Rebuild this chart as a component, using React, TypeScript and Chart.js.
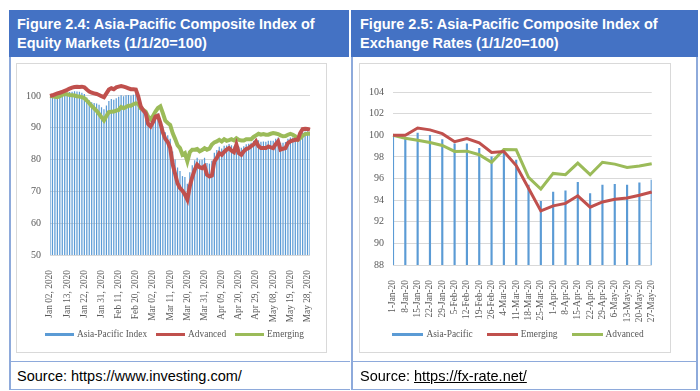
import React, { useEffect, useRef } from "react";
import { Chart, registerables } from "chart.js";

Chart.register(...registerables);

// ---------- Figure 2.4 data (trading days, Jan 02 – May 29, 2020) ----------
const MONTH_NAMES = ["Jan", "Feb", "Mar", "Apr", "May", "Jun"];
function tradingDayLabels(): string[] {
  const out: string[] = [];
  const d = new Date(Date.UTC(2020, 0, 2));
  const end = Date.UTC(2020, 4, 29);
  while (d.getTime() <= end) {
    const wd = d.getUTCDay();
    if (wd !== 0 && wd !== 6) {
      const day = String(d.getUTCDate()).padStart(2, "0");
      out.push(`${MONTH_NAMES[d.getUTCMonth()]} ${day}, 2020`);
    }
    d.setUTCDate(d.getUTCDate() + 1);
  }
  return out;
}
const eqDates = tradingDayLabels();
const EQ_LABEL_EVERY = 7;

const eqSeriesNames = ["Asia-Pacific Index", "Advanced", "Emerging"];
const eqAsiaPacific = [
  100, 99.8, 99.9, 100.0, 100.4, 100.6, 100.9, 101.0, 101.2, 101.3,
  101.5, 101.4, 101.3, 101.0, 100.6, 99.5, 98.6, 98.0, 97.8, 97.6,
  97.2, 96.4, 95.8, 97.0, 98.4, 99.0, 98.8, 99.3, 99.7, 100.2,
  99.9, 100.2, 100.3, 100.1, 100.4, 100.6, 99.2, 96.5, 95.5, 94.8,
  92.2, 91.2, 92.9, 94.1, 94.5, 93.0, 90.5, 88.6, 87.6, 86.5,
  82.5, 80.0, 77.5, 76.4, 74.8, 74.5, 72.4, 76.0, 78.2, 79.8,
  80.6, 79.8, 79.9, 80.6, 78.9, 78.7, 79.6, 82.1, 83.0, 84.0,
  83.5, 84.3, 84.4, 84.9, 84.5, 84.1, 85.7, 84.0, 83.7, 84.2,
  84.8, 85.0, 85.3, 85.9, 86.6, 86.1, 85.6, 85.7, 85.6, 85.9,
  85.9, 85.9, 86.5, 86.9, 85.3, 85.3, 85.5, 86.5, 86.9, 86.9,
  86.8, 86.2, 87.5, 88.5, 88.8, 88.9, 88.7,
];
const eqAdvanced = [
  100, 100.2, 100.5, 100.8, 101.0, 101.3, 101.6, 101.9, 102.3, 102.6,
  102.8, 102.9, 102.8, 102.9, 102.7, 102.0, 101.4, 101.0, 100.8, 100.6,
  100.3, 99.9, 99.6, 100.8, 102.0, 102.4, 102.1, 102.7, 102.9, 103.1,
  102.9, 102.7, 102.4, 102.1, 102.1, 102.0, 99.8, 96.7, 95.5, 94.6,
  91.2, 90.4, 91.8, 93.5, 93.8, 91.5, 88.5, 86.5, 85.5, 83.6,
  78.5, 75.5, 72.5, 71.0, 70.2, 69.0, 67.4, 71.6, 74.5, 76.8,
  78.4, 77.6, 77.3, 77.9, 75.2, 74.7, 75.0, 79.4, 80.5, 82.0,
  81.5, 82.4, 83.1, 83.6, 82.8, 82.3, 84.7, 82.0, 81.5, 82.6,
  83.3, 83.6, 84.2, 84.7, 85.7, 84.2, 83.6, 83.6, 83.6, 84.1,
  83.8, 83.6, 84.8, 85.7, 83.1, 83.4, 83.6, 85.2, 85.7, 86.0,
  86.2, 86.2, 88.3, 89.6, 89.7, 89.6, 89.4,
];
const eqEmerging = [
  100, 99.9, 99.7, 99.6, 99.9, 100.3, 100.6, 100.5, 100.3, 100.2,
  100.1, 99.9, 99.8, 99.6, 99.3, 98.5, 97.7, 96.8, 96.1, 95.3,
  94.3, 93.3, 92.3, 93.7, 94.9, 95.0, 95.1, 95.4, 95.6, 96.5,
  96.1, 96.5, 96.9, 96.9, 97.4, 97.7, 97.5, 96.1, 95.6, 95.1,
  93.5, 92.7, 93.7, 95.1, 96.2, 96.7, 94.6, 92.2, 91.5, 90.9,
  88.3, 86.5, 84.5, 83.6, 81.5, 82.0, 79.4, 82.3, 83.1, 83.1,
  83.3, 82.6, 83.0, 83.6, 83.1, 83.4, 84.7, 85.4, 85.7, 86.2,
  85.7, 86.4, 85.9, 86.1, 86.4, 86.0, 86.7, 86.2, 86.0, 86.0,
  86.4, 86.4, 86.4, 87.1, 87.6, 88.1, 87.8, 88.0, 87.8, 87.8,
  88.1, 88.3, 88.2, 88.0, 87.6, 87.3, 87.4, 87.8, 88.1, 87.8,
  87.3, 86.2, 86.7, 87.5, 88.0, 88.1, 88.1,
];
const eqYMin = 50;
const eqYMax = 105;
const eqYStep = 10;
const eqYLastLabel = 100;

// ---------- Figure 2.5 data (weekly) ----------
const fxDates = [
  "1-Jan-20", "8-Jan-20", "15-Jan-20", "22-Jan-20", "29-Jan-20", "5-Feb-20",
  "12-Feb-20", "19-Feb-20", "26-Feb-20", "4-Mar-20", "11-Mar-20", "18-Mar-20",
  "25-Mar-20", "1-Apr-20", "8-Apr-20", "15-Apr-20", "22-Apr-20", "29-Apr-20",
  "6-May-20", "13-May-20", "20-May-20", "27-May-20",
];
const fxSeriesNames = ["Asia-Pacific", "Emerging", "Advanced"];
const fxAsiaPacific = [
  100, 99.8, 100.2, 100.0, 99.6, 99.2, 99.2, 98.8, 98.0, 98.5, 97.7,
  95.4, 93.9, 94.75, 94.85, 95.65, 94.6, 95.4, 95.45, 95.4, 95.6, 95.85,
];
const fxEmerging = [
  100, 100.0, 100.67, 100.5, 100.15, 99.4, 99.7, 99.3, 98.4, 98.5, 97.2,
  95.1, 93.0, 93.47, 93.7, 94.4, 93.35, 93.83, 94.08, 94.2, 94.45, 94.75,
];
const fxAdvanced = [
  100, 99.72, 99.54, 99.33, 99.05, 98.5, 98.53, 98.2, 97.5, 98.68, 98.65,
  96.1, 95.03, 96.47, 96.35, 97.42, 96.35, 97.5, 97.33, 97.02, 97.15, 97.36,
];
const fxYMin = 88;
const fxYMax = 104;
const fxYStep = 2;

// ---------- styles ----------
const BLUE = "#5b9bd5";
const RED = "#c0504d";
const GREEN = "#9bbb59";
const GRID = "#d9d9d9";
const TEXT = "#595959";
const SERIF = "'Liberation Serif', 'Times New Roman', serif";
const SANS = "'Liberation Sans', Arial, sans-serif";
const HEADER_BG = "#4472c4";
const PANEL_LINE = "#8eaadb";

function baseOptions(
  yMin: number, yMax: number, step: number, lastLabel: number,
  tickCb: any, padding: any, xHeight: number, yWidth: number
) {
  return {
    responsive: false,
    animation: false,
    devicePixelRatio: 1,
    layout: { padding },
    plugins: {
      tooltip: { enabled: false },
      legend: { display: false },
    },
    scales: {
      x: {
        offset: false,
        grid: { display: false },
        border: { display: false },
        afterFit: (axis: any) => { axis.height = xHeight; },
        ticks: {
          autoSkip: false,
          maxRotation: 90,
          minRotation: 90,
          color: TEXT,
          font: { family: SERIF, size: 9.4 },
          padding: 7,
          callback: tickCb,
        },
      },
      y: {
        min: yMin,
        max: yMax,
        afterBuildTicks: (axis: any) => {
          axis.ticks = axis.ticks.filter((t: any) => t.value <= lastLabel);
        },
        afterFit: (axis: any) => { axis.width = yWidth; },
        grid: { color: GRID, drawTicks: false },
        border: { display: false },
        ticks: {
          stepSize: step,
          color: TEXT,
          font: { family: SERIF, size: 10 },
          padding: 9,
        },
      },
    },
  };
}

function ChartCanvas({ width, height, build }: { width: number; height: number; build: () => any }) {
  const ref = useRef<HTMLCanvasElement | null>(null);
  useEffect(() => {
    if (!ref.current) return;
    const chart = new Chart(ref.current, build());
    return () => chart.destroy();
  }, []);
  return <canvas ref={ref} width={width} height={height} style={{ display: "block", width, height }} />;
}

function lineDs(label: string, data: number[], color: string, width: number) {
  return {
    type: "line",
    label,
    data,
    borderColor: color,
    backgroundColor: color,
    borderWidth: width,
    pointRadius: 0,
    tension: 0,
    order: 0,
  };
}

function buildEquity() {
  return {
    type: "bar",
    data: {
      labels: eqDates,
      datasets: [
        {
          type: "bar",
          label: eqSeriesNames[0],
          data: eqAsiaPacific,
          backgroundColor: BLUE,
          borderColor: BLUE,
          barPercentage: 0.5,
          categoryPercentage: 1,
          order: 1,
        },
        lineDs(eqSeriesNames[1], eqAdvanced, RED, 4),
        lineDs(eqSeriesNames[2], eqEmerging, GREEN, 4),
      ],
    },
    options: baseOptions(
      eqYMin, eqYMax, eqYStep, eqYLastLabel,
      (_v: any, i: number) => (i % EQ_LABEL_EVERY === 0 ? eqDates[i] : null),
      { top: 16, left: 0, right: 16, bottom: 22 },
      75, 33
    ),
  };
}

function buildFx() {
  return {
    type: "bar",
    data: {
      labels: fxDates,
      datasets: [
        {
          type: "bar",
          label: fxSeriesNames[0],
          data: fxAsiaPacific,
          backgroundColor: BLUE,
          borderColor: BLUE,
          barThickness: 1.5,
          order: 1,
        },
        lineDs(fxSeriesNames[1], fxEmerging, RED, 3),
        lineDs(fxSeriesNames[2], fxAdvanced, GREEN, 3),
      ],
    },
    options: baseOptions(
      fxYMin, fxYMax, fxYStep, fxYMax,
      (_v: any, i: number) => fxDates[i],
      { top: 28, left: 0, right: 16, bottom: 22 },
      65, 33
    ),
  };
}

function Legend({ items, colors, boxW, gap, cx, cy }: { items: string[]; colors: string[]; boxW: number; gap: number; cx: number; cy: number }) {
  return (
    <div
      style={{
        position: "absolute",
        left: cx - 200,
        width: 400,
        top: cy - 8,
        height: 16,
        display: "flex",
        justifyContent: "center",
        alignItems: "center",
        fontFamily: SERIF,
        fontSize: 9.4,
        color: TEXT,
        whiteSpace: "nowrap",
      }}
    >
      {items.map((t, i) => (
        <div key={t} style={{ display: "flex", alignItems: "center", marginLeft: i === 0 ? 0 : gap }}>
          <div style={{ width: boxW, height: 3, background: colors[i], marginRight: 3 }} />
          <span>{t}</span>
        </div>
      ))}
    </div>
  );
}

const abs = (s: React.CSSProperties): React.CSSProperties => ({ position: "absolute", ...s });

export default function App() {
  const headerText: React.CSSProperties = {
    color: "#ffffff",
    fontFamily: SANS,
    fontWeight: "bold",
    fontSize: 14.5,
    lineHeight: "19px",
    whiteSpace: "nowrap",
  };
  const sourceText: React.CSSProperties = {
    fontFamily: SANS,
    fontSize: 14.5,
    lineHeight: "20px",
    color: "#000",
    whiteSpace: "nowrap",
  };
  return (
    <div style={{ position: "fixed", left: 0, top: 0, width: 700, height: 391, background: "#fff", overflow: "hidden" }}>
      {/* Left panel */}
      <div style={abs({ left: 9, top: 10, width: 340, height: 47, background: HEADER_BG })}>
        <div style={abs({ left: 8, top: 5, ...headerText })}>
          Figure 2.4: Asia-Pacific Composite Index of
          <br />
          Equity Markets (1/1/20=100)
        </div>
      </div>
      <div style={abs({ left: 9, top: 57, width: 2, height: 333, background: PANEL_LINE })} />
      <div style={abs({ left: 9, top: 361, width: 341, height: 1, background: PANEL_LINE })} />
      <div style={abs({ left: 9, top: 389, width: 341, height: 1, background: PANEL_LINE })} />
      <div style={abs({ left: 16, top: 63, width: 311, height: 290, border: "1px solid #d9d9d9", boxSizing: "border-box" })}>
        <ChartCanvas width={309} height={288} build={buildEquity} />
      </div>
      <Legend items={eqSeriesNames} colors={[BLUE, RED, GREEN]} boxW={29} gap={9} cx={174.5} cy={334} />
      <div style={abs({ left: 17, top: 366, ...sourceText })}>Source: https://www.investing.com/</div>

      {/* Right panel */}
      <div style={abs({ left: 351, top: 10, width: 347, height: 47, background: HEADER_BG })}>
        <div style={abs({ left: 9, top: 5, ...headerText })}>
          Figure 2.5: Asia-Pacific Composite Index of
          <br />
          Exchange Rates (1/1/20=100)
        </div>
      </div>
      <div style={abs({ left: 351, top: 57, width: 2, height: 333, background: PANEL_LINE })} />
      <div style={abs({ left: 696, top: 57, width: 2, height: 333, background: PANEL_LINE })} />
      <div style={abs({ left: 351, top: 361, width: 347, height: 1, background: PANEL_LINE })} />
      <div style={abs({ left: 351, top: 389, width: 347, height: 1, background: PANEL_LINE })} />
      <div style={abs({ left: 359, top: 63, width: 312, height: 290, border: "1px solid #d9d9d9", boxSizing: "border-box" })}>
        <ChartCanvas width={310} height={288} build={buildFx} />
      </div>
      <Legend items={fxSeriesNames} colors={[BLUE, RED, GREEN]} boxW={31} gap={14} cx={518} cy={334} />
      <div style={abs({ left: 360, top: 366, ...sourceText })}>
        Source: <span style={{ textDecoration: "underline" }}>https://fx-rate.net/</span>
      </div>
    </div>
  );
}
